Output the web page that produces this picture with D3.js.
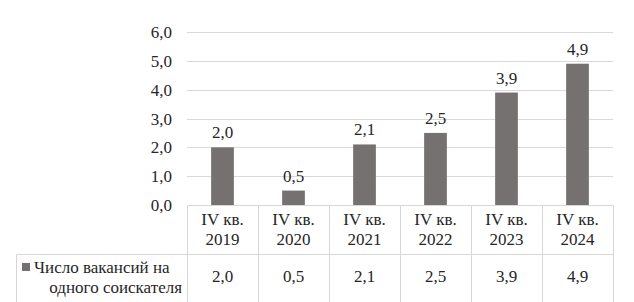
<!DOCTYPE html>
<html><head><meta charset="UTF-8"></head>
<body style="margin:0">
    <svg width="634" height="302"></svg>
    <script src="https://d3js.org/d3.v7.min.js"></script>
    <script>

        // Data
        const quarters = ['IV кв.', 'IV кв.', 'IV кв.', 'IV кв.', 'IV кв.', 'IV кв.'];
        const years = ['2019', '2020', '2021', '2022', '2023', '2024'];
        const values = [2.0, 0.5, 2.1, 2.5, 3.9, 4.9];
        const seriesName = ['Число вакансий на', 'одного соискателя'];
        const yTicks = [0, 1, 2, 3, 4, 5, 6];

        const fmt = function (d) {
            return d.toFixed(1).replace('.', ',');
        };

        const plot = { left: 187, right: 613, top: 32, bottom: 205 };
        const rowSplit = 254;
        const tableBottom = 310;
        const tableLeft = 16;
        const barColor = '#767171';
        const lineColor = '#d6d6d6';

        const svg = d3.select('svg');

        const x = d3.scaleBand()
            .domain(years)
            .range([plot.left, plot.right]);

        const barWidth = x.bandwidth() * 0.32;

        const y = d3.scaleLinear()
            .domain([0, 6])
            .range([plot.bottom, plot.top]);

        // Gridlines
        svg.selectAll('line.grid')
            .data(yTicks.slice(1))
            .enter()
            .append('line')
            .attr('class', 'grid')
            .attr('x1', plot.left)
            .attr('x2', plot.right)
            .attr('y1', function (d) { return Math.round(y(d)) + 0.5; })
            .attr('y2', function (d) { return Math.round(y(d)) + 0.5; })
            .attr('stroke', '#d9d9d9');

        // Bars
        svg.selectAll('rect.bar')
            .data(values)
            .enter()
            .append('rect')
            .attr('class', 'bar')
            .attr('x', function (d, i) { return x(years[i]) + (x.bandwidth() - barWidth) / 2; })
            .attr('y', function (d) { return y(d); })
            .attr('width', barWidth)
            .attr('height', function (d) { return y(0) - y(d); })
            .attr('fill', barColor);

        // Table lines
        const lines = [
            [plot.left, plot.bottom, plot.right, plot.bottom],
            [tableLeft, rowSplit, plot.right, rowSplit],
            [tableLeft, rowSplit, tableLeft, tableBottom]
        ];
        x.domain().forEach(function (yr) {
            lines.push([x(yr), plot.bottom, x(yr), tableBottom]);
        });
        lines.push([plot.right, plot.bottom, plot.right, tableBottom]);

        svg.selectAll('line.cell')
            .data(lines)
            .enter()
            .append('line')
            .attr('class', 'cell')
            .attr('stroke', lineColor)
            .attr('x1', function (d) { return Math.round(d[0]) + 0.5; })
            .attr('y1', function (d) { return Math.round(d[1]) + 0.5; })
            .attr('x2', function (d) { return Math.round(d[2]) + 0.5; })
            .attr('y2', function (d) { return Math.round(d[3]) + 0.5; });

        // Legend key
        svg.append('rect')
            .attr('x', 22)
            .attr('y', 263)
            .attr('width', 8)
            .attr('height', 8)
            .attr('fill', barColor);

        // All texts collected as rows, then drawn straight into the svg
        const labels = [];
        yTicks.forEach(function (t) {
            labels.push({ x: plot.left - 15, y: y(t) + 6, anchor: 'end', text: fmt(t) });
        });
        values.forEach(function (v, i) {
            const cx = x(years[i]) + x.bandwidth() / 2;
            labels.push({ x: cx, y: y(v) - 9, anchor: 'middle', text: fmt(v) });
            labels.push({ x: cx, y: 225, anchor: 'middle', text: quarters[i] });
            labels.push({ x: cx, y: 245, anchor: 'middle', text: years[i] });
            labels.push({ x: cx, y: 282, anchor: 'middle', text: fmt(v) });
        });
        labels.push({ x: 34, y: 273, anchor: 'start', text: seriesName[0] });
        labels.push({ x: 182, y: 293, anchor: 'end', text: seriesName[1] });

        svg.selectAll('text')
            .data(labels)
            .enter()
            .append('text')
            .attr('x', function (d) { return d.x; })
            .attr('y', function (d) { return d.y; })
            .attr('font-family', function () { return "'Liberation Serif'"; })
            .attr('font-size', 17)
            .attr('fill', '#262626')
            .attr('text-anchor', function (d) { return d.anchor; })
            .text(function (d) { return d.text; });

    </script>
</body>
</html>
